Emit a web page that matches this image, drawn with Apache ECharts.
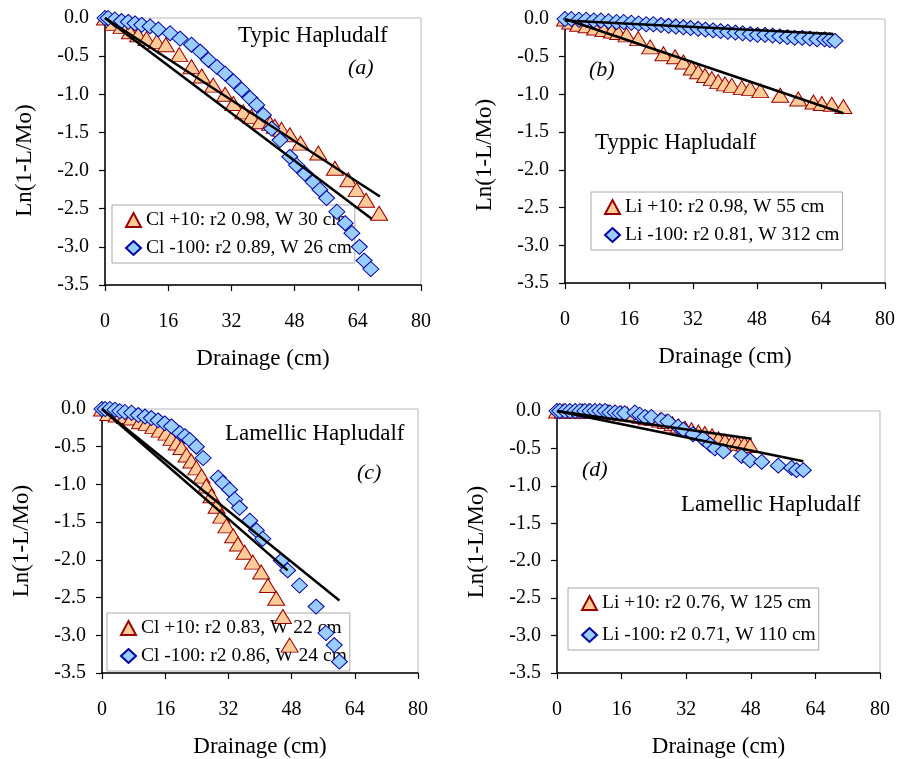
<!DOCTYPE html>
<html>
<head>
<meta charset="utf-8">
<script src="https://cdn.jsdelivr.net/npm/echarts@6/dist/echarts.min.js"></script>
<style>
html, body { margin: 0; padding: 0; background: #fff; }
#chart { width: 903px; height: 759px; }
</style>
</head>
<body>
<div id="chart"></div>
<script>
// (a) Typic Hapludalf, Cl
const aTriName = 'Cl +10: r2 0.98, W 30 cm';
const aTriX = [0, 2.1, 4.2, 6.3, 8.4, 10.5, 13.1, 15.4, 18.8, 21.9, 24.5, 27.4, 30.4, 32.5, 35.0, 37.1, 39.2, 41.8, 43.0, 44.7, 46.8, 49.5, 54.0, 58.2, 61.6, 63.7, 66.1, 69.4];
const aTriY = [0, -0.07, -0.11, -0.18, -0.22, -0.27, -0.31, -0.35, -0.48, -0.64, -0.76, -0.88, -1.0, -1.12, -1.23, -1.29, -1.36, -1.38, -1.42, -1.46, -1.53, -1.64, -1.77, -1.97, -2.12, -2.25, -2.39, -2.56];
const aDiaName = 'Cl -100: r2 0.89, W 26 cm';
const aDiaX = [0, 0.8, 2.5, 4.2, 5.9, 7.6, 9.3, 11.4, 13.5, 16.5, 19.0, 21.9, 24.1, 26.2, 28.3, 30.4, 32.5, 34.6, 36.7, 38.4, 40.1, 42.2, 44.3, 46.8, 48.5, 50.6, 52.7, 54.4, 56.1, 58.7, 60.8, 62.5, 64.4, 65.6, 67.3];
const aDiaY = [0, 0, -0.02, -0.04, -0.05, -0.07, -0.09, -0.11, -0.15, -0.2, -0.27, -0.35, -0.44, -0.55, -0.64, -0.73, -0.83, -0.94, -1.05, -1.14, -1.27, -1.45, -1.6, -1.82, -1.93, -2.04, -2.15, -2.25, -2.36, -2.54, -2.69, -2.82, -3.0, -3.18, -3.29];
const aTriFit = [[0, 0], [69.6, -2.34]];
const aDiaFit = [[0, 0], [67.5, -2.63]];

// (b) Typpic Hapludalf, Li
const bTriName = 'Li +10: r2 0.98, W 55 cm';
const bTriX = [0, 1.3, 3.3, 5.4, 7.5, 9.6, 11.7, 13.3, 15.4, 18.3, 21.3, 24.6, 27.5, 29.6, 31.7, 33.3, 35.0, 36.7, 38.3, 40.0, 41.7, 44.2, 46.3, 48.8, 53.8, 58.3, 62.1, 64.2, 66.7, 69.6];
const bTriY = [0, -0.04, -0.07, -0.09, -0.12, -0.14, -0.16, -0.18, -0.21, -0.26, -0.37, -0.46, -0.5, -0.57, -0.65, -0.7, -0.75, -0.79, -0.83, -0.86, -0.88, -0.91, -0.92, -0.95, -1.01, -1.06, -1.1, -1.12, -1.13, -1.16];
const bDiaName = 'Li -100: r2 0.81, W 312 cm';
const bDiaX = [0, 1.6, 3.5, 5.3, 7.2, 9.0, 10.9, 12.9, 14.7, 16.6, 18.4, 20.3, 22.1, 24.0, 25.9, 27.7, 29.6, 31.4, 33.3, 35.1, 37.0, 38.9, 40.7, 42.6, 44.4, 46.3, 48.1, 50.0, 51.9, 53.7, 55.6, 57.4, 59.3, 61.2, 63.0, 64.9, 66.2, 67.5];
const bDiaY = [0, 0, -0.01, -0.01, -0.02, -0.02, -0.03, -0.04, -0.04, -0.05, -0.06, -0.07, -0.07, -0.08, -0.09, -0.1, -0.11, -0.12, -0.13, -0.14, -0.15, -0.16, -0.17, -0.18, -0.19, -0.2, -0.21, -0.21, -0.22, -0.23, -0.24, -0.25, -0.25, -0.26, -0.27, -0.27, -0.28, -0.29];
const bTriFit = [[0, 0], [69.6, -1.25]];
const bDiaFit = [[0, -0.02], [67.1, -0.2]];

// (c) Lamellic Hapludalf, Cl
const cTriName = 'Cl +10: r2 0.83, W 22 cm';
const cTriX = [0, 1.6, 3.7, 5.8, 7.5, 9.6, 11.3, 13.0, 14.6, 16.3, 17.6, 18.9, 20.1, 21.4, 22.6, 23.9, 25.2, 26.4, 27.7, 29.0, 30.2, 31.5, 33.2, 34.4, 36.1, 38.2, 40.3, 42.0, 44.1, 45.8, 47.5];
const cTriY = [0, -0.06, -0.08, -0.1, -0.12, -0.17, -0.19, -0.23, -0.28, -0.32, -0.39, -0.45, -0.51, -0.61, -0.69, -0.78, -0.89, -1.02, -1.15, -1.29, -1.42, -1.55, -1.68, -1.79, -1.9, -2.03, -2.16, -2.34, -2.51, -2.75, -3.13];
const cDiaName = 'Cl -100: r2 0.86, W 24 cm';
const cDiaX = [0, 0.8, 2.0, 3.3, 4.5, 5.8, 7.5, 9.2, 10.9, 12.5, 14.2, 15.9, 17.6, 19.7, 21.0, 22.2, 23.9, 25.6, 29.4, 30.6, 32.3, 33.6, 34.8, 37.4, 39.1, 40.7, 45.4, 47.0, 50.0, 54.2, 56.7, 58.8, 60.1];
const cDiaY = [0, 0, 0, -0.01, -0.03, -0.04, -0.05, -0.08, -0.1, -0.12, -0.15, -0.19, -0.23, -0.32, -0.36, -0.41, -0.5, -0.65, -0.91, -0.98, -1.07, -1.2, -1.31, -1.48, -1.61, -1.72, -2.01, -2.14, -2.34, -2.62, -2.97, -3.13, -3.35];
const cTriFit = [[0, 0], [47.0, -2.14]];
const cDiaFit = [[0, 0], [60.1, -2.54]];

// (d) Lamellic Hapludalf, Li
const dTriName = 'Li +10: r2 0.76, W 125 cm';
const dTriX = [0, 1.5, 3.1, 4.6, 6.3, 7.8, 9.4, 11.1, 12.6, 14.2, 15.9, 17.4, 19.0, 20.7, 22.2, 23.8, 25.5, 27.0, 28.6, 30.1, 31.7, 33.3, 35.0, 36.6, 38.4, 40.0, 41.6, 43.3, 44.8, 46.4, 47.8];
const dTriY = [0, 0, 0, 0, 0, 0, 0, -0.01, -0.01, -0.02, -0.03, -0.04, -0.05, -0.07, -0.09, -0.1, -0.12, -0.14, -0.17, -0.2, -0.23, -0.25, -0.28, -0.3, -0.33, -0.37, -0.4, -0.42, -0.43, -0.44, -0.46];
const dDiaName = 'Li -100: r2 0.71, W 110 cm';
const dDiaX = [0, 0.7, 2.0, 3.2, 4.5, 5.7, 6.9, 8.2, 9.4, 10.6, 11.9, 13.1, 14.4, 15.6, 16.8, 19.3, 20.5, 21.8, 23.4, 25.9, 27.5, 30.0, 31.3, 33.7, 36.2, 37.9, 39.1, 41.2, 45.7, 47.8, 50.7, 54.8, 58.1, 59.3, 61.0];
const dDiaY = [0, 0, 0, 0, 0, 0, 0, 0, 0, 0, 0, -0.02, -0.02, -0.03, -0.03, -0.02, -0.05, -0.08, -0.08, -0.12, -0.14, -0.21, -0.25, -0.31, -0.37, -0.45, -0.5, -0.54, -0.6, -0.66, -0.68, -0.73, -0.76, -0.79, -0.79];
const dTriFit = [[0, 0], [48.2, -0.37]];
const dDiaFit = [[0, 0], [61.0, -0.67]];

const FONT = "'Liberation Serif', 'Times New Roman', serif";
const TRI_FILL = '#FFCC99', TRI_LINE = '#990000';
const DIA_FILL = '#99CCFF', DIA_LINE = '#0000A0';

function zip(xs, ys) { return xs.map((x, i) => [x, ys[i]]); }

const panels = [
  { grid: { left: 105, top: 18, width: 316, height: 267 }, legend: { left: 112, top: 205 }, namePad: [0, 18, 0, 0],
    tri: [aTriName, aTriX, aTriY], dia: [aDiaName, aDiaX, aDiaY], fits: [aTriFit, aDiaFit] },
  { grid: { left: 565, top: 19, width: 320, height: 264 }, legend: { left: 591, top: 192 }, namePad: [0, 8, 0, 0],
    tri: [bTriName, bTriX, bTriY], dia: [bDiaName, bDiaX, bDiaY], fits: [bTriFit, bDiaFit] },
  { grid: { left: 102, top: 409, width: 316, height: 266 }, legend: { left: 107, top: 613 }, namePad: 0,
    tri: [cTriName, cTriX, cTriY], dia: [cDiaName, cDiaX, cDiaY], fits: [cTriFit, cDiaFit] },
  { grid: { left: 557, top: 411, width: 323, height: 262 }, legend: { left: 568, top: 588 }, namePad: 0,
    tri: [dTriName, dTriX, dTriY], dia: [dDiaName, dDiaX, dDiaY], fits: [dTriFit, dDiaFit] }
];

const grid = [], xAxis = [], yAxis = [], legend = [], series = [];
panels.forEach((p, i) => {
  grid.push(Object.assign({ show: true, borderColor: '#b8b8b8', borderWidth: 1, backgroundColor: 'transparent' }, p.grid));
  xAxis.push({
    gridIndex: i, type: 'value', min: 0, max: 80, interval: 16,
    axisLine: { onZero: false, lineStyle: { color: '#000', width: 1.5 } },
    axisTick: { length: 6, lineStyle: { color: '#000', width: 1.2 } },
    splitLine: { show: false },
    axisLabel: { color: '#000', fontSize: 20, fontFamily: FONT, margin: 27 },
    name: 'Drainage (cm)', nameLocation: 'middle', nameGap: 62,
    nameTextStyle: { color: '#000', fontSize: 23, fontFamily: FONT }
  });
  yAxis.push({
    gridIndex: i, type: 'value', min: -3.5, max: 0, interval: 0.5,
    axisLine: { onZero: false, lineStyle: { color: '#000', width: 1.5 } },
    axisTick: { length: 6, lineStyle: { color: '#000', width: 1.2 } },
    splitLine: { show: false },
    axisLabel: { color: '#000', fontSize: 20, fontFamily: FONT, margin: 16, formatter: v => v.toFixed(1) },
    name: 'Ln(1-L/Mo)', nameLocation: 'middle', nameGap: 69, nameRotate: 90,
    nameTextStyle: { color: '#000', fontSize: 23, fontFamily: FONT, padding: p.namePad }
  });
  legend.push({
    z: 1, orient: 'vertical', left: p.legend.left, top: p.legend.top,
    data: [p.tri[0], p.dia[0]], selectedMode: false,
    borderColor: '#a8a8a8', borderWidth: 1, padding: [4, 3, 4, 13],
    itemGap: i === 3 ? 10 : 6, itemWidth: 15, itemHeight: 14,
    textStyle: { color: '#000', fontSize: 19.5, fontFamily: FONT, lineHeight: 22 }
  });
  series.push({
    type: 'scatter', name: p.tri[0], xAxisIndex: i, yAxisIndex: i, z: 2,
    symbol: 'triangle', symbolSize: [17, 14],
    itemStyle: { color: TRI_FILL, borderColor: TRI_LINE, borderWidth: 1, opacity: 1 },
    data: zip(p.tri[1], p.tri[2])
  });
  series.push({
    type: 'scatter', name: p.dia[0], xAxisIndex: i, yAxisIndex: i, z: 2,
    symbol: 'diamond', symbolSize: [16, 15],
    itemStyle: { color: DIA_FILL, borderColor: DIA_LINE, borderWidth: 1, opacity: 1 },
    data: zip(p.dia[1], p.dia[2])
  });
  p.fits.forEach(f => {
    series.push({
      type: 'line', xAxisIndex: i, yAxisIndex: i, z: 3, silent: true,
      symbol: 'none', data: f,
      lineStyle: { color: '#000', width: 2.5 }
    });
  });
});

function label(text, left, cy, size, italic) {
  return {
    type: 'text', left: left, top: cy - size * 0.6, z: 10,
    style: { text: text, fill: '#000', font: (italic ? 'italic ' : '') + size + 'px ' + FONT }
  };
}

const chart = echarts.init(document.getElementById('chart'));
chart.setOption({
  animation: false,
  backgroundColor: '#fff',
  grid, xAxis, yAxis, legend, series,
  graphic: [
    label('Typic Hapludalf', 238, 38, 23),
    label('(a)', 348, 70, 22, true),
    label('(b)', 589, 72, 22, true),
    label('Typpic Hapludalf', 595, 145, 23),
    label('Lamellic Hapludalf', 225, 436, 23),
    label('(c)', 357, 475, 22, true),
    label('(d)', 582, 472, 22, true),
    label('Lamellic Hapludalf', 681, 507, 23)
  ]
});
</script>
</body>
</html>
